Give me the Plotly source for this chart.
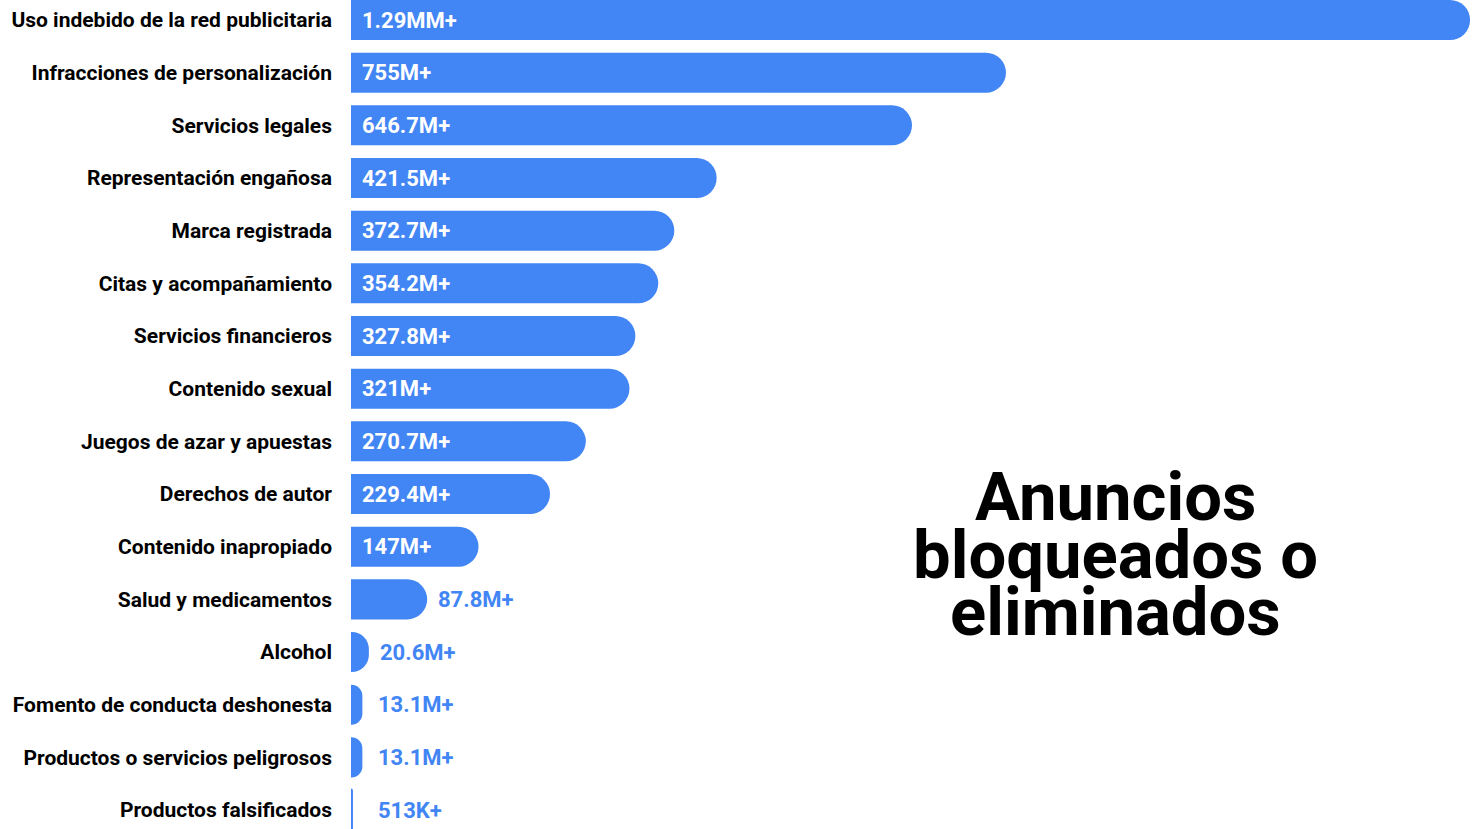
import plotly.graph_objects as go

categories = [
    "Uso indebido de la red publicitaria",
    "Infracciones de personalización",
    "Servicios legales",
    "Representación engañosa",
    "Marca registrada",
    "Citas y acompañamiento",
    "Servicios financieros",
    "Contenido sexual",
    "Juegos de azar y apuestas",
    "Derechos de autor",
    "Contenido inapropiado",
    "Salud y medicamentos",
    "Alcohol",
    "Fomento de conducta deshonesta",
    "Productos o servicios peligrosos",
    "Productos falsificados",
]
values_m = [1290, 755, 646.7, 421.5, 372.7, 354.2, 327.8, 321, 270.7, 229.4,
            147, 87.8, 20.6, 13.1, 13.1, 0.513]
value_labels = ["1.29MM+", "755M+", "646.7M+", "421.5M+", "372.7M+", "354.2M+",
                "327.8M+", "321M+", "270.7M+", "229.4M+", "147M+", "87.8M+",
                "20.6M+", "13.1M+", "13.1M+", "513K+"]
title_lines = ["Anuncios", "bloqueados o", "eliminados"]

BLUE = "#4285F4"
FONT = "Roboto"
W, H = 1477, 829
L = 351

# tiny bars get an outline so they stay visible, as in the reference
outline = [3 if v < 2 else 0 for v in values_m]

fig = go.Figure()
fig.add_trace(go.Bar(
    x=values_m, y=categories, orientation="h",
    marker=dict(color=BLUE, cornerradius=20,
                line=dict(width=outline, color=BLUE)),
    hoverinfo="skip",
))

annotations = []
INSIDE_MIN = 100
for cat, v, lab in zip(categories, values_m, value_labels):
    inside = v >= INSIDE_MIN
    annotations.append(dict(
        x=0 if inside else max(v, 18.4), y=cat, xref="x", yref="y",
        text=lab, showarrow=False, xanchor="left", yanchor="middle",
        xshift=9, yshift=0,
        font=dict(family=FONT, size=22, weight=700,
                  color="white" if inside else BLUE),
    ))

title_px = [497, 555, 612]
for line, py in zip(title_lines, title_px):
    annotations.append(dict(
        x=(1115 - L) / (W - L), y=1 - py / H, xref="paper", yref="paper",
        text=line, showarrow=False, xanchor="center", yanchor="middle",
        font=dict(family=FONT, size=67, weight=700, color="black"),
    ))

fig.update_layout(
    width=W, height=H,
    margin=dict(l=L, r=0, t=0, b=0),
    paper_bgcolor="white", plot_bgcolor="white",
    showlegend=False,
    bargap=0.24,
    xaxis=dict(range=[0, 1298], visible=False, fixedrange=True),
    yaxis=dict(
        type="category", categoryorder="array", categoryarray=categories,
        range=[15.36, -0.38], showgrid=False, zeroline=False, showline=False,
        ticks="", ticklabelstandoff=18,
        tickfont=dict(family=FONT, size=21, weight=700, color="black"),
        automargin=False, fixedrange=True,
    ),
    annotations=annotations,
)

fig.write_html("out.html", config={"displayModeBar": False},
               post_script="document.body.style.margin='0';")
